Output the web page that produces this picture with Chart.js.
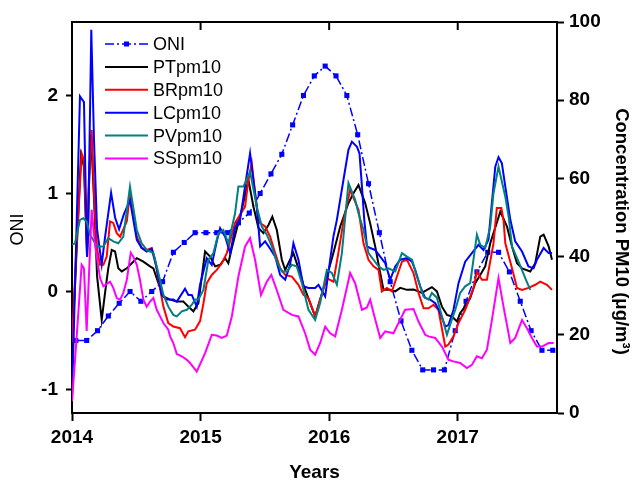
<!DOCTYPE html>
<html><head><meta charset="utf-8">
<script src="https://cdn.jsdelivr.net/npm/chart.js@4/dist/chart.umd.min.js"></script>
<style>html,body{margin:0;padding:0;background:#fff}canvas{display:block}</style>
</head><body>
<canvas id="c" width="635" height="481"></canvas>
<script>
// ---------------- DATA ----------------
const seriesNames = ['ONI', 'PTpm10', 'BRpm10', 'LCpm10', 'PVpm10', 'SSpm10'];
const yearTicks = [2014, 2015, 2016, 2017];
const oniTicks = [-1, 0, 1, 2];
const concTicks = [0, 20, 40, 60, 80, 100];

// Monthly ONI, Jan 2014 .. Sep 2017
const oniValues = [
  -0.5, -0.5, -0.4, -0.25, -0.12, 0.0, -0.1, 0.0, 0.1, 0.4, 0.5, 0.6,
  0.6, 0.6, 0.6, 0.7, 0.8, 1.0, 1.2, 1.4, 1.7, 2.0, 2.2, 2.3,
  2.2, 2.0, 1.6, 1.1, 0.6, 0.1, -0.3, -0.6, -0.8, -0.8, -0.8, -0.4,
  -0.1, 0.2, 0.4, 0.4, 0.2, -0.1, -0.4, -0.6, -0.6
];
const oniStart = 2014.03, oniMonthStep = 0.0843;

// PM10 concentration series: [decimal year, µg/m3]
const ptPM10 = [[2014.000,16],[2014.031,38],[2014.070,66],[2014.093,63],[2014.117,40],[2014.132,58],[2014.148,71.1],[2014.171,55],[2014.195,35],[2014.231,23.8],[2014.257,30.7],[2014.282,37],[2014.309,41.7],[2014.335,41.3],[2014.360,37],[2014.387,36.2],[2014.426,37],[2014.465,38.3],[2014.504,39.6],[2014.555,38.7],[2014.607,37.5],[2014.633,37],[2014.672,33.2],[2014.711,29.8],[2014.763,29],[2014.815,28.5],[2014.866,28.5],[2014.905,27.2],[2014.944,26],[2014.983,28.1],[2015.035,41.3],[2015.074,40],[2015.113,37.5],[2015.152,37.9],[2015.191,39.6],[2015.216,38.3],[2015.243,42.2],[2015.320,52],[2015.372,59.6],[2015.411,52.8],[2015.450,47.3],[2015.489,46],[2015.528,48.1],[2015.558,50.2],[2015.593,46.8],[2015.632,39.2],[2015.658,36.6],[2015.696,39.2],[2015.722,40.9],[2015.761,37],[2015.800,32.8],[2015.852,28.1],[2015.891,24.7],[2015.930,29],[2015.982,34.9],[2016.033,40.9],[2016.086,47.7],[2016.150,53.7],[2016.189,56.2],[2016.228,58.3],[2016.280,53.7],[2016.319,48.5],[2016.358,42.6],[2016.397,35.8],[2016.423,31.5],[2016.475,31.5],[2016.514,31.1],[2016.553,32],[2016.605,31.5],[2016.656,31.6],[2016.695,31.1],[2016.721,30.7],[2016.761,31.5],[2016.799,32.2],[2016.838,31.1],[2016.877,27.2],[2016.916,25.1],[2016.955,24.7],[2016.994,23.4],[2017.019,25.6],[2017.058,27.2],[2017.097,29.4],[2017.136,33.2],[2017.175,35.3],[2017.214,37.5],[2017.253,43.4],[2017.331,51.5],[2017.383,47.7],[2017.422,42.6],[2017.461,38.3],[2017.500,37],[2017.564,36.2],[2017.603,38.3],[2017.642,45.1],[2017.668,45.6],[2017.707,42.6],[2017.733,39.2]];

const brPM10 = [[2014.000,18],[2014.031,40],[2014.075,66.4],[2014.093,64.7],[2014.117,42],[2014.132,60],[2014.153,72.4],[2014.171,56],[2014.195,42],[2014.218,37.9],[2014.244,37.9],[2014.270,40],[2014.296,49],[2014.321,48.6],[2014.348,46],[2014.374,45.1],[2014.426,49],[2014.451,56.2],[2014.504,45.1],[2014.542,42.2],[2014.581,41.7],[2014.620,42.2],[2014.646,39.2],[2014.672,34.1],[2014.711,27.2],[2014.749,23],[2014.788,22.1],[2014.840,21.7],[2014.879,19.4],[2014.905,20.9],[2014.957,21.3],[2014.996,23.5],[2015.022,28],[2015.048,33.2],[2015.087,35.3],[2015.126,36.6],[2015.165,38.3],[2015.204,40.9],[2015.268,48.6],[2015.346,52.8],[2015.372,59.6],[2015.398,63.9],[2015.424,56.2],[2015.450,49.4],[2015.463,48.6],[2015.502,47.7],[2015.541,45.1],[2015.580,40.9],[2015.619,37],[2015.658,35.3],[2015.710,34.9],[2015.761,32.8],[2015.800,30.2],[2015.839,29.4],[2015.891,24.7],[2015.930,29],[2015.982,34.5],[2016.033,33.6],[2016.072,41],[2016.111,49],[2016.163,57.1],[2016.228,52],[2016.267,43.4],[2016.306,39.2],[2016.345,37.5],[2016.384,36.6],[2016.410,31.1],[2016.449,32],[2016.488,31.1],[2016.527,34.9],[2016.566,38.7],[2016.605,39.2],[2016.656,35.8],[2016.695,30.7],[2016.734,26.8],[2016.773,26.8],[2016.812,27.7],[2016.850,26.4],[2016.903,17],[2016.928,17.5],[2016.967,19.6],[2017.006,23],[2017.058,26.4],[2017.123,32],[2017.149,36.2],[2017.188,34.1],[2017.227,34.1],[2017.278,43.4],[2017.304,52.4],[2017.339,52.4],[2017.356,49.4],[2017.370,43.4],[2017.422,37],[2017.461,32],[2017.500,31.5],[2017.550,32],[2017.603,32.8],[2017.642,33.6],[2017.694,32.8],[2017.733,31.5]];

const lcPM10 = [[2014.000,3],[2014.062,81],[2014.093,79.5],[2014.117,40],[2014.125,45],[2014.150,98],[2014.171,70],[2014.195,47],[2014.231,38],[2014.257,45],[2014.304,56.3],[2014.335,50],[2014.366,47],[2014.405,51],[2014.451,54.4],[2014.504,44.3],[2014.542,42.2],[2014.581,41.3],[2014.620,42],[2014.659,37],[2014.698,30.2],[2014.737,29],[2014.788,29],[2014.815,28.5],[2014.879,31.8],[2014.905,30.2],[2014.932,30.2],[2014.970,27.2],[2014.996,32.8],[2015.048,39.6],[2015.087,37.9],[2015.126,43.9],[2015.152,47.3],[2015.191,45.1],[2015.230,40.9],[2015.268,47.3],[2015.307,49.4],[2015.346,58],[2015.385,66.4],[2015.437,52.8],[2015.463,42.6],[2015.502,43.9],[2015.541,42],[2015.580,40],[2015.619,35.3],[2015.658,34.1],[2015.696,37.9],[2015.722,43.4],[2015.761,39.2],[2015.800,32.4],[2015.839,32],[2015.891,32],[2015.917,32.8],[2015.969,29.8],[2016.008,39.2],[2016.033,45.1],[2016.060,49.4],[2016.111,59.6],[2016.150,67.3],[2016.177,69.4],[2016.216,68.1],[2016.236,66.4],[2016.255,57.9],[2016.273,49.4],[2016.294,42.6],[2016.319,42.2],[2016.358,41.7],[2016.397,40],[2016.436,38.3],[2016.475,34.1],[2016.514,37.5],[2016.553,39.2],[2016.605,39.6],[2016.644,38.7],[2016.669,36.6],[2016.708,32.4],[2016.747,29.4],[2016.786,29],[2016.825,28.1],[2016.864,25.6],[2016.903,22.1],[2016.928,22.5],[2016.967,26.4],[2017.006,33.2],[2017.058,38.7],[2017.110,40.9],[2017.161,43],[2017.200,41.7],[2017.239,44.3],[2017.253,49.4],[2017.292,63],[2017.317,65.4],[2017.343,63.9],[2017.370,57.9],[2017.409,49.4],[2017.447,43.9],[2017.500,41.3],[2017.550,37.5],[2017.590,37],[2017.616,39.2],[2017.668,42.2],[2017.707,40.9],[2017.733,40.9]];

const pvPM10 = [[2014.000,43],[2014.023,43.4],[2014.062,49.4],[2014.088,49.8],[2014.114,49],[2014.140,45.6],[2014.195,42.6],[2014.244,42.6],[2014.282,44.7],[2014.321,43.9],[2014.360,43.4],[2014.399,45.1],[2014.451,57.9],[2014.504,46.8],[2014.542,43.4],[2014.581,41.7],[2014.633,40.9],[2014.672,35.8],[2014.711,30.2],[2014.749,27.2],[2014.788,25.1],[2014.815,24.7],[2014.854,26],[2014.893,26.4],[2014.932,27.7],[2014.957,29],[2014.983,29],[2015.022,31.5],[2015.061,39.2],[2015.100,40.9],[2015.139,46],[2015.177,46.8],[2015.216,43.4],[2015.268,51],[2015.294,57.9],[2015.333,57.9],[2015.385,61.7],[2015.437,52.8],[2015.476,47.7],[2015.515,45.6],[2015.554,42.6],[2015.593,38.7],[2015.632,36.2],[2015.671,36.2],[2015.710,37.9],[2015.748,37.5],[2015.788,33.2],[2015.839,26.4],[2015.891,23.8],[2015.930,28.1],[2015.982,36.6],[2016.021,35.8],[2016.060,32.8],[2016.099,40.9],[2016.150,58.8],[2016.202,54.5],[2016.228,51.1],[2016.267,46.8],[2016.306,40.9],[2016.345,39.2],[2016.384,37.5],[2016.423,36.6],[2016.461,37],[2016.514,36.2],[2016.566,40.9],[2016.605,40],[2016.644,39.2],[2016.683,34.9],[2016.734,29.8],[2016.773,29],[2016.799,30.7],[2016.838,29.5],[2016.877,24.7],[2016.916,20],[2016.955,24],[2016.981,26.4],[2017.019,30.7],[2017.058,32.4],[2017.097,33.2],[2017.149,45.6],[2017.175,43],[2017.214,42.2],[2017.253,47.7],[2017.278,56.2],[2017.317,63],[2017.370,55.3],[2017.396,50.2],[2017.422,42.6],[2017.473,38.7],[2017.525,34.5],[2017.564,31.5]];

const ssPM10 = [[2014.000,3],[2014.031,17],[2014.075,37.9],[2014.093,37],[2014.114,21],[2014.153,52],[2014.179,43],[2014.218,34.5],[2014.244,32.4],[2014.296,33.6],[2014.321,32],[2014.348,29.4],[2014.374,29],[2014.399,30.7],[2014.426,34],[2014.457,41],[2014.477,40],[2014.504,37.9],[2014.529,34],[2014.555,29],[2014.581,27.2],[2014.607,28.5],[2014.633,29.4],[2014.659,26.4],[2014.685,24.7],[2014.711,23],[2014.749,21.3],[2014.763,19.6],[2014.788,17.9],[2014.815,15.1],[2014.854,14.5],[2014.893,13.6],[2014.918,12.8],[2014.970,10.6],[2015.035,15.3],[2015.087,20],[2015.126,19.8],[2015.165,19.2],[2015.204,19.8],[2015.243,24.7],[2015.294,34.9],[2015.346,42.6],[2015.385,44.7],[2015.424,39.2],[2015.470,30.2],[2015.515,33.6],[2015.550,35.3],[2015.593,31.4],[2015.644,26.4],[2015.710,25.1],[2015.761,24.7],[2015.813,20.4],[2015.852,16.2],[2015.891,14.9],[2015.930,17.9],[2015.969,22.1],[2016.008,20.4],[2016.047,19.6],[2016.099,26.4],[2016.163,35.8],[2016.202,33.2],[2016.255,26.4],[2016.294,27],[2016.319,29],[2016.345,25.6],[2016.397,19.2],[2016.436,20.9],[2016.500,20.4],[2016.539,23],[2016.591,26.4],[2016.656,26.6],[2016.695,23.4],[2016.747,20],[2016.773,19.6],[2016.825,19.2],[2016.877,17],[2016.928,13.6],[2016.967,13.2],[2017.019,12.8],[2017.071,11.5],[2017.110,12.3],[2017.149,14.5],[2017.188,14],[2017.227,16.2],[2017.266,23.8],[2017.317,34.5],[2017.356,27.2],[2017.409,17.9],[2017.447,19.2],[2017.500,23.8],[2017.538,21.7],[2017.577,19.2],[2017.616,17],[2017.655,17],[2017.707,17.9],[2017.746,17.9]];

// ---------------- CHART ----------------
const FONT = "'Liberation Sans', Arial, sans-serif";
const colors = ['#0000ff', '#000000', '#ff0000', '#0000ff', '#008080', '#ff00ff'];
const oniDash = [9, 3, 2, 3];
const toXY = arr => arr.map(p => ({x: p[0], y: p[1]}));
const oniData = oniValues.map((v, i) => ({x: oniStart + i * oniMonthStep, y: v}));
const pmSeries = [ptPM10, brPM10, lcPM10, pvPM10, ssPM10];

const datasets = [{
  label: seriesNames[0], data: oniData, yAxisID: 'y', borderColor: colors[0],
  backgroundColor: colors[0], borderWidth: 1.5, borderDash: oniDash,
  pointStyle: 'rect', pointRadius: 3.6, pointBorderWidth: 0,
  pointBackgroundColor: colors[0], order: 6
}].concat(pmSeries.map((s, i) => ({
  label: seriesNames[i + 1], data: toXY(s), yAxisID: 'y2',
  borderColor: colors[i + 1], backgroundColor: colors[i + 1],
  borderWidth: 2, pointRadius: 0, order: 5 - i
})));

const tickFont = {family: FONT, size: 19, weight: 'bold'};

const decor = {
  id: 'decor',
  beforeDraw(chart) {
    const ctx = chart.ctx;
    ctx.save(); ctx.fillStyle = '#fff'; ctx.fillRect(0, 0, chart.width, chart.height); ctx.restore();
  },
  afterDraw(chart) {
    const {ctx, chartArea: a, scales} = chart;
    ctx.save();
    // top frame + inward ticks
    ctx.strokeStyle = '#000'; ctx.lineWidth = 2; ctx.setLineDash([]);
    ctx.beginPath(); ctx.moveTo(a.left - 1, a.top); ctx.lineTo(a.right + 1, a.top); ctx.stroke();
    yearTicks.forEach(v => {
      const x = scales.x.getPixelForValue(v);
      if (x > a.left + 2) { ctx.beginPath(); ctx.moveTo(x, a.top); ctx.lineTo(x, a.top + 8); ctx.stroke(); }
    });
    // axis titles
    ctx.fillStyle = '#000'; ctx.textAlign = 'center'; ctx.textBaseline = 'alphabetic';
    ctx.font = 'bold 19px ' + FONT;
    ctx.fillText('Years', (a.left + a.right) / 2, 478);
    ctx.save(); ctx.translate(23, (a.top + a.bottom) / 2 + 12); ctx.rotate(-Math.PI / 2);
    ctx.font = '18px ' + FONT; ctx.fillText('ONI', 0, 0); ctx.restore();
    ctx.save(); ctx.translate(616, (a.top + a.bottom) / 2 + 14); ctx.rotate(Math.PI / 2);
    ctx.font = 'bold 18.5px ' + FONT; ctx.fillText('Concentration PM10 (\u03bcg/m\u00b3)', 0, 0); ctx.restore();
    // legend
    const x0 = 105, x1 = 148, ty = 44, dy = 22.9;
    ctx.font = '18px ' + FONT; ctx.textAlign = 'left'; ctx.textBaseline = 'middle';
    chart.data.datasets.forEach((ds, i) => {
      const y = ty + i * dy;
      ctx.strokeStyle = ds.borderColor; ctx.lineWidth = ds.borderWidth;
      ctx.setLineDash(ds.borderDash || []);
      ctx.beginPath(); ctx.moveTo(x0, y); ctx.lineTo(x1, y); ctx.stroke();
      ctx.setLineDash([]);
      if (ds.pointRadius > 0) {
        ctx.fillStyle = ds.pointBackgroundColor;
        ctx.fillRect((x0 + x1) / 2 - 2.5, y - 2.5, 5, 5);
      }
      ctx.fillStyle = '#000';
      ctx.fillText(ds.label, 153, y + 1);
    });
    ctx.restore();
  }
};

new Chart(document.getElementById('c'), {
  type: 'line',
  data: {datasets},
  options: {
    responsive: false, animation: false, devicePixelRatio: 1,
    layout: {padding: {top: 22, left: 0, right: 0, bottom: 0}},
    plugins: {legend: {display: false}, tooltip: {enabled: false}},
    scales: {
      x: {
        type: 'linear', position: 'bottom', min: 2014, max: 2017.772,
        afterBuildTicks: s => { s.ticks = yearTicks.map(v => ({value: v})); },
        afterFit: s => { s.height = 68; },
        ticks: {callback: v => String(v), font: tickFont, color: '#000', padding: 5, maxRotation: 0, autoSkip: false},
        grid: {drawOnChartArea: false, drawTicks: true, tickLength: 8, tickWidth: 2, tickColor: '#000'},
        border: {display: true, color: '#000', width: 2}
      },
      y: {
        type: 'linear', position: 'left', min: -1.24, max: 2.75,
        afterBuildTicks: s => { s.ticks = oniTicks.map(v => ({value: v})); },
        afterFit: s => { s.width = 72; },
        ticks: {callback: v => String(v), font: tickFont, color: '#000', padding: 8},
        grid: {drawOnChartArea: false, drawTicks: true, tickLength: 6, tickWidth: 2, tickColor: '#000'},
        border: {display: true, color: '#000', width: 2}
      },
      y2: {
        type: 'linear', position: 'right', min: 0, max: 100,
        afterBuildTicks: s => { s.ticks = concTicks.map(v => ({value: v})); },
        afterFit: s => { s.width = 78; },
        ticks: {callback: v => String(v), font: tickFont, color: '#000', padding: 5},
        grid: {drawOnChartArea: false, drawTicks: true, tickLength: 7, tickWidth: 2, tickColor: '#000'},
        border: {display: true, color: '#000', width: 2}
      }
    }
  },
  plugins: [decor]
});
</script>
</body></html>
